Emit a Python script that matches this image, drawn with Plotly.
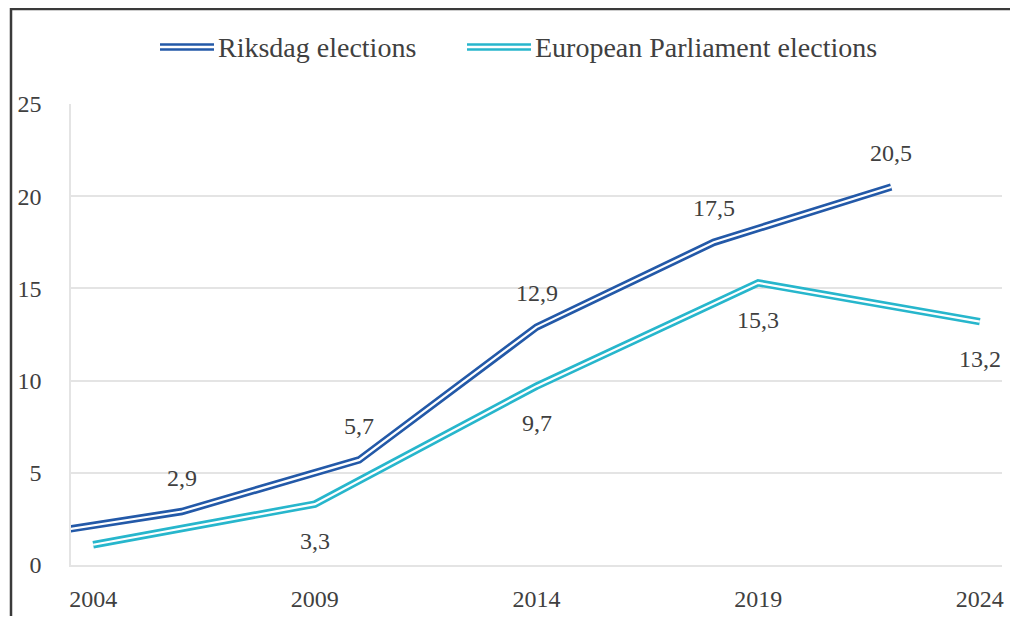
import plotly.graph_objects as go

# ---- data ----
riksdag_years = [2002, 2006, 2010, 2014, 2018, 2022]
riksdag_values = [1.4, 2.9, 5.7, 12.9, 17.5, 20.5]
riksdag_labeled = [False, True, True, True, True, True]

ep_years = [2004, 2009, 2014, 2019, 2024]
ep_values = [1.1, 3.3, 9.7, 15.3, 13.2]
ep_labeled = [False, True, True, True, True]

x_ticks = [2004, 2009, 2014, 2019, 2024]
y_ticks = [0, 5, 10, 15, 20, 25]

series_names = ["Riksdag elections", "European Parliament elections"]
colors = ["#2359A8", "#27B6CC"]

# ---- layout geometry (pixels); page body has an 8px margin ----
OFF = 8
W, H = 1018 - 2 * OFF, 624 - 2 * OFF
L, T = 71 - OFF, 104 - OFF
R = W - (1002 - OFF)
B = H - (565 - OFF)
PW, PH = W - L - R, H - T - B


def px(xs):
    return (xs - OFF - L) / PW


def py(ys):
    return (H - B - (ys - OFF)) / PH


FONT = "Liberation Serif"
TXT = "#404040"
GRID = "#E4E4E4"

fig = go.Figure()

for years, vals, col in [(riksdag_years, riksdag_values, colors[0]),
                         (ep_years, ep_values, colors[1])]:
    fig.add_trace(go.Scatter(x=years, y=vals, mode="lines",
                             line=dict(color=col, width=7.5),
                             showlegend=False, hoverinfo="skip"))
    fig.add_trace(go.Scatter(x=years, y=vals, mode="lines",
                             line=dict(color="white", width=2.2),
                             showlegend=False, hoverinfo="skip"))


def fmt(v):
    return f"{v:.1f}".replace(".", ",")


annotations = []
for years, vals, flags, shift in [(riksdag_years, riksdag_values, riksdag_labeled, 34),
                                  (ep_years, ep_values, ep_labeled, -37)]:
    for x, v, f in zip(years, vals, flags):
        if f:
            annotations.append(dict(x=x, y=v, text=fmt(v), showarrow=False,
                                    yshift=shift, xref="x", yref="y",
                                    font=dict(family=FONT, size=24, color=TXT)))

# manual legend with double lines
shapes = []
legend_items = [(160, 214, 216, series_names[0], colors[0]),
                (467, 531, 533, series_names[1], colors[1])]
for x0, x1, xt, name, col in legend_items:
    for yy in (44.5, 49.5):
        shapes.append(dict(type="line", xref="paper", yref="paper",
                           x0=px(x0), x1=px(x1), y0=py(yy), y1=py(yy),
                           line=dict(color=col, width=2.6)))
    annotations.append(dict(x=px(xt), y=py(47.5), xref="paper", yref="paper",
                            text=name, showarrow=False, xanchor="left",
                            yanchor="middle",
                            font=dict(family=FONT, size=28, color=TXT)))

# outer frame
shapes.append(dict(type="rect", xref="paper", yref="paper",
                   x0=px(11), x1=px(1018 + 60), y0=py(624 + 60), y1=py(9),
                   line=dict(color="#3a3a3a", width=2.5), fillcolor="rgba(0,0,0,0)",
                   layer="above"))

fig.update_layout(
    width=W, height=H,
    margin=dict(l=L, r=R, t=T, b=B, autoexpand=False),
    paper_bgcolor="white", plot_bgcolor="white",
    showlegend=False,
    font=dict(family=FONT, color=TXT, size=24),
    annotations=annotations,
    shapes=shapes,
    xaxis=dict(range=[2003.5, 2024.5], tickvals=x_ticks,
               ticktext=[str(t) for t in x_ticks],
               showgrid=False, zeroline=False, automargin=False,
               showline=True, linecolor=GRID, linewidth=1.5,
               ticks="", ticklabelstandoff=11,
               tickfont=dict(family=FONT, size=24, color=TXT)),
    yaxis=dict(range=[0, 25], tickvals=y_ticks, automargin=False,
               showgrid=True, gridcolor=GRID, gridwidth=1.5,
               zeroline=False, showline=True, linecolor=GRID, linewidth=1.5,
               ticks="", ticklabelstandoff=23,
               tickfont=dict(family=FONT, size=24, color=TXT)),
)

fig.write_html("out.html")
